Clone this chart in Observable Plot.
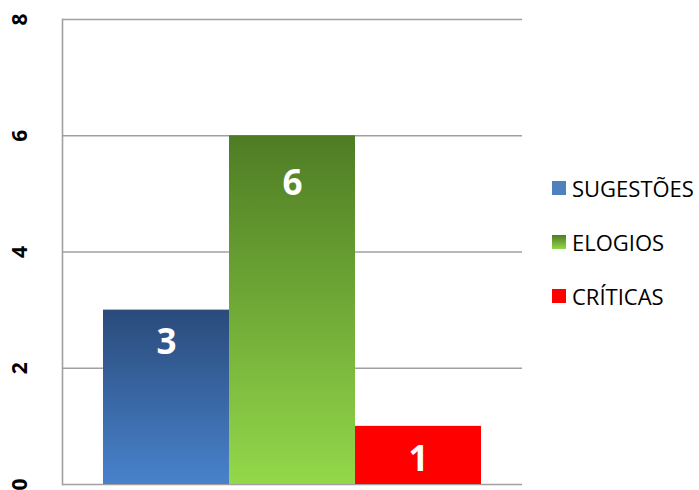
<!DOCTYPE html>
<html>
<head>
<meta charset="utf-8">
<script src="https://cdn.jsdelivr.net/npm/d3@7"></script>
<script src="https://cdn.jsdelivr.net/npm/@observablehq/plot@0.6"></script>
<style>
  body { margin: 0; background: #fff; }
  #wrap { position: relative; width: 699px; height: 490px; overflow: hidden; }
  #legend { position: absolute; left: 552px; top: 0; font-family: "Open Sans", "Noto Sans", sans-serif; font-size: 22px; color: #000; }
  .item { position: absolute; left: 0; display: flex; align-items: center; white-space: nowrap; height: 30px; }
  .sw { width: 14px; height: 14px; margin-right: 6px; }
</style>
</head>
<body>
<div id="wrap"><div id="legend"></div></div>
<script>
const categories = ["SUGESTÕES", "ELOGIOS", "CRÍTICAS"];
const values = [3, 6, 1];
const yTicks = [0, 2, 4, 6, 8];

const data = categories.map((c, i) => ({category: c, value: values[i]}));

const defs = () => {
  const ns = "http://www.w3.org/2000/svg";
  const d = document.createElementNS(ns, "defs");
  d.innerHTML = `
    <linearGradient id="gBlue" x1="0" y1="0" x2="0" y2="1">
      <stop offset="0" stop-color="#2a4b7b"/><stop offset="1" stop-color="#4882cc"/>
    </linearGradient>
    <linearGradient id="gGreen" x1="0" y1="0" x2="0" y2="1">
      <stop offset="0" stop-color="#4e7c24"/><stop offset="1" stop-color="#93d84a"/>
    </linearGradient>`;
  return d;
};

const labelStyle = {x: "category", y: "value", text: d => String(d.value), fill: "white", fontWeight: "bold", fontSize: 35, fontFamily: "Open Sans, sans-serif"};

const chart = Plot.plot({
  width: 699,
  height: 490,
  marginLeft: 62,
  marginRight: 177,
  marginTop: 19,
  marginBottom: 6,
  x: {domain: categories, paddingInner: 0, paddingOuter: 0.315, axis: null},
  y: {domain: [0, 8], axis: null},
  color: {type: "ordinal", domain: categories, range: ["url(#gBlue)", "url(#gGreen)", "#ff0000"]},
  marks: [
    defs,
    Plot.ruleY(yTicks, {stroke: "#a0a0a0", strokeWidth: 1.6}),
    Plot.frame({anchor: "left", stroke: "#a0a0a0", strokeWidth: 1.6}),
    Plot.barY(data, {x: "category", y: "value", fill: "category"}),
    Plot.text(data.filter(d => d.value >= 5), {...labelStyle, dy: 48}),
    Plot.text(data.filter(d => d.value < 5), {...labelStyle, dy: 33}),
    Plot.text(yTicks, {y: d => d, text: d => String(d), frameAnchor: "left", dx: -42, rotate: -90, textAnchor: "middle", fontWeight: "bold", fontSize: 21, fontFamily: "Open Sans, sans-serif", fill: "black"})
  ]
});
chart.style.position = "absolute";
chart.style.left = "0";
chart.style.top = "0";
document.getElementById("wrap").prepend(chart);

const legendColors = ["#4f81bd", "linear-gradient(#4e7c24, #93d84a)", "#ff0000"];
const legendY = [173, 227, 281];
const legend = document.getElementById("legend");
categories.forEach((c, i) => {
  const it = document.createElement("div");
  it.className = "item";
  it.style.top = legendY[i] + "px";
  const sw = document.createElement("div");
  sw.className = "sw";
  sw.style.background = legendColors[i];
  const t = document.createElement("span");
  t.textContent = c;
  it.appendChild(sw);
  it.appendChild(t);
  legend.appendChild(it);
});
</script>
</body>
</html>
